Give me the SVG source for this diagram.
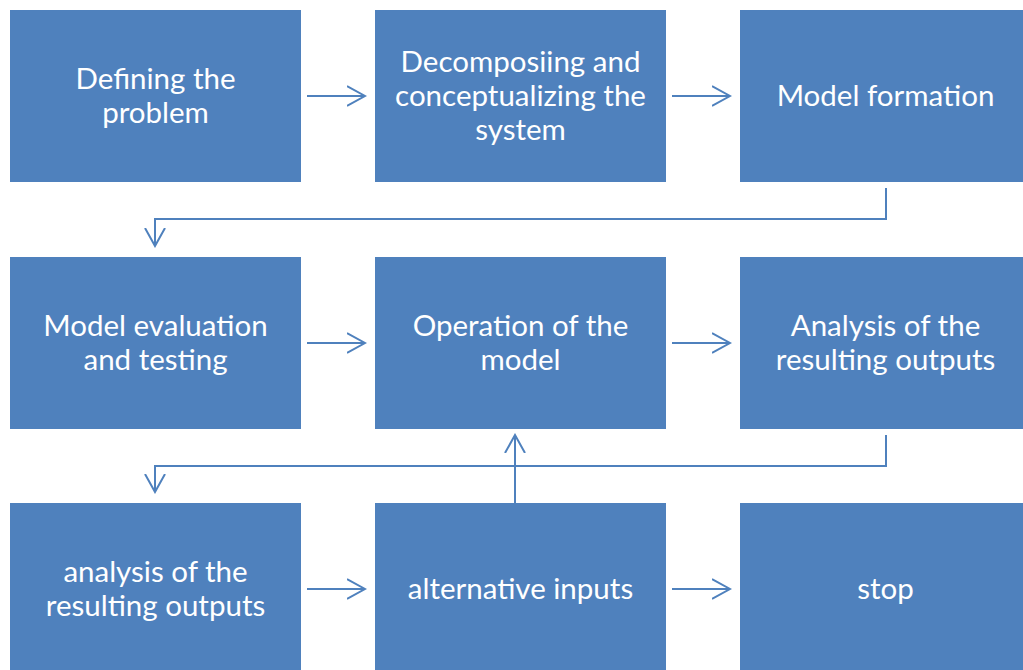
<svg xmlns="http://www.w3.org/2000/svg" width="1023" height="670" viewBox="0 0 1023 670">
<style>
.box{fill:#4f81bd;}
.t{font-family:Lato,"Open Sans","Liberation Sans",sans-serif;font-size:29.5px;fill:#ffffff;text-anchor:middle;}
.c{fill:none;stroke:#4f81bd;stroke-width:2;}
</style>
<defs>
<marker id="ah" markerWidth="20" markerHeight="24" refX="18" refY="11" orient="auto" markerUnits="userSpaceOnUse">
<path d="M0,1 L18,11 L0,21" fill="none" stroke="#4f81bd" stroke-width="2"/>
</marker>
</defs>
<rect width="1023" height="670" fill="#ffffff"/>
<g id="n1"><rect class="box" x="10" y="10" width="291" height="172"/><text class="t" x="155.5" y="89">Defining the</text><text class="t" x="155.5" y="123">problem</text></g>
<g id="n2"><rect class="box" x="375" y="10" width="291" height="172"/><text class="t" x="520.5" y="72">Decomposiing and</text><text class="t" x="520.5" y="106">conceptualizing the</text><text class="t" x="520.5" y="140">system</text></g>
<g id="n3"><rect class="box" x="740" y="10" width="291" height="172"/><text class="t" x="885.5" y="106">Model formation</text></g>
<g id="n4"><rect class="box" x="10" y="257" width="291" height="172"/><text class="t" x="155.5" y="336">Model evaluation</text><text class="t" x="155.5" y="370">and testing</text></g>
<g id="n5"><rect class="box" x="375" y="257" width="291" height="172"/><text class="t" x="520.5" y="336">Operation of the</text><text class="t" x="520.5" y="370">model</text></g>
<g id="n6"><rect class="box" x="740" y="257" width="291" height="172"/><text class="t" x="885.5" y="336">Analysis of the</text><text class="t" x="885.5" y="370">resulting outputs</text></g>
<g id="n7"><rect class="box" x="10" y="503" width="291" height="172"/><text class="t" x="155.5" y="582">analysis of the</text><text class="t" x="155.5" y="616">resulting outputs</text></g>
<g id="n8"><rect class="box" x="375" y="503" width="291" height="172"/><text class="t" x="520.5" y="599">alternative inputs</text></g>
<g id="n9"><rect class="box" x="740" y="503" width="291" height="172"/><text class="t" x="885.5" y="599">stop</text></g>
<g id="connectors">
<path class="c" d="M307,96 H365" marker-end="url(#ah)"/>
<path class="c" d="M672,96 H730" marker-end="url(#ah)"/>
<path class="c" d="M886,188 V219 H155 V246" marker-end="url(#ah)"/>
<path class="c" d="M307,343 H365" marker-end="url(#ah)"/>
<path class="c" d="M672,343 H730" marker-end="url(#ah)"/>
<path class="c" d="M886,435 V466 H155 V492" marker-end="url(#ah)"/>
<path class="c" d="M307,589 H365" marker-end="url(#ah)"/>
<path class="c" d="M672,589 H730" marker-end="url(#ah)"/>
<path class="c" d="M515,503 V435" marker-end="url(#ah)"/>
</g>
</svg>
